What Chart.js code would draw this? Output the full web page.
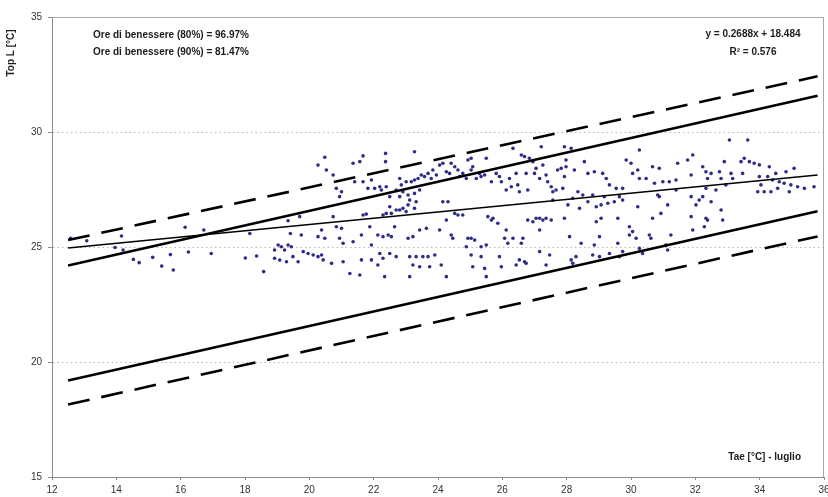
<!DOCTYPE html>
<html>
<head>
<meta charset="utf-8">
<script src="https://cdn.jsdelivr.net/npm/chart.js@4.4.1/dist/chart.umd.min.js"></script>
<style>
html,body{margin:0;padding:0;background:#fff}
canvas{display:block}
</style>
</head>
<body>
<canvas id="grafico" width="828" height="497"></canvas>
<script>
// Temperatura esterna Tae [°C] (luglio) e temperatura operativa Top [°C], ore misurate
const tempEsterna = [
  12.58,13.08,14.16,13.96,14.21,14.53,14.71,15.13,15.41,15.68,15.77,16.14,16.72,16.24,16.95,18.15,18.01,18.36,18.58,18.92,
  19.03,19.13,19.23,19.34,19.44,18.92,19.08,19.29,19.49,19.65,19.34,19.41,
  20.48,20.27,20.53,20.74,21.36,21.57,21.67,22.37,22.37,23.27,22.81,21.41,21.67,21.82,21.93,22.03,22.19,22.24,22.39,20.84,
  21.00,20.94,22.50,22.70,22.86,23.01,23.17,23.27,23.38,23.48,23.58,23.69,23.79,23.84,23.95,24.05,24.15,24.26,24.36,24.41,
  24.52,24.62,24.67,24.77,24.88,24.93,25.03,25.03,25.08,25.19,25.29,25.34,25.45,25.50,25.66,25.81,25.91,25.97,26.12,26.22,
  26.28,26.33,26.43,26.48,26.53,26.59,26.69,26.74,26.79,26.84,26.95,27.00,27.05,27.16,27.21,27.26,27.36,27.41,27.52,27.57,
  27.67,27.72,
  22.81,22.91,23.07,23.27,23.43,23.12,23.32,22.50,22.29,22.39,22.55,22.70,22.81,22.91,23.01,23.07,23.27,21.67,21.77,20.74,
  19.70,19.75,20.38,20.27,20.48,20.84,21.00,20.94,21.05,21.36,21.62,21.88,21.93,22.13,22.29,22.45,22.55,22.65,22.19,22.50,
  22.70,19.81,19.96,20.12,20.27,20.38,20.43,20.69,21.05,21.26,21.57,21.62,21.93,22.13,22.29,22.34,23.07,23.22,23.43,23.64,
  23.12,23.22,23.32,23.43,23.53,23.69,23.74,23.90,23.12,24.10,24.26,24.26,24.15,24.41,24.46,24.52,24.62,24.77,24.88,24.93,
  25.03,25.03,25.08,25.14,25.34,25.34,25.45,25.50,25.50,25.55,25.66,25.71,25.86,25.91,25.97,26.07,26.12,26.17,26.33,26.43,
  26.53,26.59,26.64,26.69,26.74,26.79,26.95,27.05,27.16,27.26,27.36,27.16,27.16,27.52,27.36,27.47,27.57,24.05,24.31,
  27.93,28.14,27.98,28.55,30.26,33.06,33.63,27.83,27.98,28.24,27.93,28.66,28.86,29.12,29.23,29.33,29.54,29.74,29.85,30.00,
  30.05,30.21,30.26,30.47,30.67,30.73,30.88,30.99,31.19,31.40,31.45,31.76,31.87,31.92,32.23,32.33,32.38,32.49,32.75,32.80,
  32.90,32.95,33.11,33.16,33.42,33.47,33.52,33.68,33.83,33.99,33.99,34.04,34.25,34.30,34.40,34.50,34.61,34.82,34.97,35.07,
  35.18,35.39,35.69,
  27.88,28.04,28.19,28.35,28.40,28.50,28.66,28.81,28.92,29.07,29.17,29.28,29.48,29.64,29.74,30.21,30.83,30.88,31.14,31.40,
  31.87,32.02,32.12,32.23,32.33,32.49,32.64,32.80,33.94,34.14,34.35,34.56,34.76,34.92,
  27.93,28.92,29.07,29.59,29.95,30.05,30.16,30.57,30.62,30.67,30.93,31.24,31.87,31.92,32.28,32.33,32.38,32.85,
  28.09,28.14,28.19,28.29,28.45,28.81,28.86,29.02,29.02,29.33,29.59,29.64,29.74,29.95,30.26,30.36,31.09,31.14
];
const tempOperativa = [
  25.38,25.27,25.48,24.98,24.87,24.46,24.32,24.55,24.17,24.67,24.00,25.86,25.74,24.78,24.72,25.59,24.52,24.61,23.93,24.87,
  25.09,25.01,24.87,25.09,25.01,24.51,24.43,24.36,24.58,24.36,26.14,25.59,
  28.90,28.56,28.35,28.13,28.64,28.71,28.96,29.07,28.71,29.14,27.98,27.84,27.84,27.55,27.91,27.55,27.62,27.48,27.62,27.55,
  27.40,27.19,27.19,27.48,27.70,27.84,27.84,27.91,27.98,28.13,28.06,28.20,27.98,28.35,28.13,28.56,28.64,28.27,28.20,28.64,
  28.49,28.35,28.06,28.20,27.98,28.78,28.86,28.35,28.49,27.98,28.20,28.06,28.13,28.86,27.84,28.20,28.06,27.84,27.48,27.98,
  27.62,29.29,28.20,27.70,27.40,29.00,28.93,28.20,27.48,28.86,28.71,28.20,28.42,27.98,29.36,28.56,28.13,27.84,27.62,27.40,
  27.48,28.35,
  27.19,27.40,27.26,27.33,27.48,27.04,26.97,26.75,26.39,26.46,26.46,26.61,26.61,26.68,26.54,26.83,26.68,26.39,26.43,26.32,
  26.32,25.52,25.74,25.45,25.38,25.88,25.81,25.38,25.16,25.23,25.52,25.88,25.09,25.52,25.45,25.52,25.45,25.88,24.72,24.72,
  24.58,24.80,24.72,24.65,24.58,24.65,24.44,24.29,24.36,23.85,23.78,24.44,24.44,24.22,24.51,23.71,25.38,25.45,25.74,25.81,
  24.58,24.22,24.58,24.14,24.58,24.58,24.14,24.65,23.71,24.22,23.71,26.17,26.97,25.52,25.38,26.46,26.39,26.39,25.01,25.38,
  25.38,24.65,24.14,25.30,24.58,25.01,24.07,25.09,23.71,26.32,26.17,26.25,26.03,24.58,24.14,25.38,25.74,25.16,25.38,24.22,
  24.44,25.16,25.38,24.36,24.29,26.17,26.10,26.25,26.25,26.17,26.25,25.74,24.80,26.17,24.22,24.65,27.04,25.74,26.97,
  29.36,29.29,28.78,28.71,29.22,29.65,29.65,28.42,28.49,28.35,28.06,28.20,28.27,28.20,27.98,27.70,27.55,27.55,28.78,28.64,
  28.20,28.35,27.98,27.98,28.49,27.77,28.42,27.84,27.84,27.91,28.64,28.78,28.13,29.00,28.49,28.27,27.98,28.20,28.27,27.98,
  28.71,27.70,28.20,27.98,28.71,28.20,28.86,28.71,28.64,28.57,28.06,27.70,28.06,28.49,27.91,28.20,27.84,28.27,27.70,28.42,
  27.62,27.55,27.62,
  27.55,26.83,27.12,27.40,26.68,27.26,26.97,27.26,26.75,26.83,27.19,26.90,26.97,27.19,27.04,26.75,27.26,27.19,26.83,27.48,
  27.19,26.83,27.04,27.19,27.55,26.97,27.48,26.61,27.40,27.40,27.40,27.55,27.77,27.40,
  26.25,26.10,26.25,26.25,25.88,25.67,25.38,25.52,25.38,26.25,26.46,25.52,26.32,25.74,25.88,26.25,26.17,26.17,
  25.45,24.44,24.29,24.58,25.16,24.65,25.09,25.45,24.58,24.72,25.16,24.58,24.80,25.52,24.94,24.72,25.09,24.87
];

// Estremi delle rette tracciate
const lineaX = [12.5, 35.8];
const lineaTendenza = [24.96, 28.13];
const limiteSup90 = [24.2, 31.58];
const limiteInf90 = [19.2, 26.55];
const limiteSup80 = [25.3, 32.42];
const limiteInf80 = [18.15, 25.46];

// Assi
const xTicks = [12, 14, 16, 18, 20, 22, 24, 26, 28, 30, 32, 34, 36];
const yTicks = [15, 20, 25, 30, 35];
const yGriglia = [20, 25, 30];

// Testi
const titoloY = 'Top L [°C]';
const titoloX = 'Tae [°C] - luglio';
const noteOre = ['Ore di benessere (80%) = 96.97%', 'Ore di benessere (90%) = 81.47%'];
const noteRegressione = ['y = 0.2688x + 18.484', 'R² = 0.576'];

const FONT = '"Liberation Sans", Arial, Helvetica, sans-serif';

const punti = tempEsterna.map((x, i) => ({ x: x, y: tempOperativa[i] }));
const retta = (vals) => lineaX.map((x, i) => ({ x: x, y: vals[i] }));

const lineaBase = {
  type: 'line', showLine: true, pointRadius: 0, borderColor: '#000', fill: false, tension: 0
};

// Griglia tratteggiata, cornice e testi sul grafico
const decorazioni = {
  id: 'decorazioni',
  beforeDatasetsDraw(chart) {
    const { ctx, chartArea: a, scales } = chart;
    ctx.save();
    ctx.strokeStyle = '#b8b8b8';
    ctx.lineWidth = 1;
    ctx.setLineDash([1.5, 3]);
    yGriglia.forEach(v => {
      const py = Math.round(scales.y.getPixelForValue(v)) + 0.5;
      ctx.beginPath();
      ctx.moveTo(a.left + 1, py);
      ctx.lineTo(a.right, py);
      ctx.stroke();
    });
    ctx.setLineDash([]);
    ctx.strokeStyle = '#a8a8a8';
    ctx.beginPath();
    ctx.moveTo(a.left, a.top + 0.5);
    ctx.lineTo(a.right - 0.5, a.top + 0.5);
    ctx.lineTo(a.right - 0.5, a.bottom);
    ctx.stroke();
    ctx.restore();
  },
  afterDraw(chart) {
    const { ctx, chartArea: a } = chart;
    ctx.save();
    ctx.fillStyle = '#1c1c1c';
    ctx.font = 'bold 10px ' + FONT;
    ctx.textBaseline = 'middle';
    ctx.textAlign = 'left';
    ctx.fillText(noteOre[0], a.left + 41, a.top + 18);
    ctx.fillText(noteOre[1], a.left + 41, a.top + 35);
    ctx.textAlign = 'center';
    ctx.fillText(noteRegressione[0], a.right - 71, a.top + 17);
    ctx.fillText(noteRegressione[1], a.right - 71, a.top + 35);
    ctx.textAlign = 'right';
    ctx.fillText(titoloX, a.right - 23, a.bottom - 20);
    ctx.translate(11, a.top + 36);
    ctx.rotate(-Math.PI / 2);
    ctx.textAlign = 'center';
    ctx.fillText(titoloY, 0, 0);
    ctx.restore();
  }
};

new Chart(document.getElementById('grafico'), {
  type: 'scatter',
  data: {
    datasets: [
      Object.assign({}, lineaBase, { data: retta(limiteSup80), borderWidth: 2.6, borderDash: [22, 12] }),
      Object.assign({}, lineaBase, { data: retta(limiteInf80), borderWidth: 2.6, borderDash: [22, 12] }),
      Object.assign({}, lineaBase, { data: retta(limiteSup90), borderWidth: 2.6 }),
      Object.assign({}, lineaBase, { data: retta(limiteInf90), borderWidth: 2.6 }),
      Object.assign({}, lineaBase, { data: retta(lineaTendenza), borderWidth: 1.5 }),
      {
        data: punti,
        pointRadius: 1.8,
        pointHoverRadius: 1.8,
        pointBackgroundColor: '#2e2c86',
        pointBorderWidth: 0,
        showLine: false
      }
    ]
  },
  options: {
    responsive: false,
    animation: false,
    events: [],
    layout: { padding: { top: 17, right: 4, left: 0, bottom: 0 } },
    plugins: { legend: { display: false }, tooltip: { enabled: false } },
    scales: {
      x: {
        type: 'linear',
        min: 12, max: 36,
        afterBuildTicks: s => { s.ticks = xTicks.map(v => ({ value: v })); },
        afterFit: s => { s.height = 20; s.paddingLeft = 0; s.paddingRight = 0; },
        grid: { drawOnChartArea: false, drawTicks: true, tickLength: 3, color: '#8c8c8c' },
        border: { display: true, color: '#8c8c8c', width: 1 },
        ticks: { padding: 4, color: '#333', font: { family: FONT, size: 10 }, maxRotation: 0, autoSkip: false }
      },
      y: {
        type: 'linear',
        min: 15, max: 35,
        afterBuildTicks: s => { s.ticks = yTicks.map(v => ({ value: v })); },
        afterFit: s => { s.width = 52; s.paddingTop = 0; s.paddingBottom = 0; },
        grid: { drawOnChartArea: false, drawTicks: true, tickLength: 4, color: '#8c8c8c' },
        border: { display: true, color: '#8c8c8c', width: 1 },
        ticks: { padding: 6, color: '#333', font: { family: FONT, size: 10 }, autoSkip: false }
      }
    }
  },
  plugins: [decorazioni]
});
</script>
</body>
</html>
